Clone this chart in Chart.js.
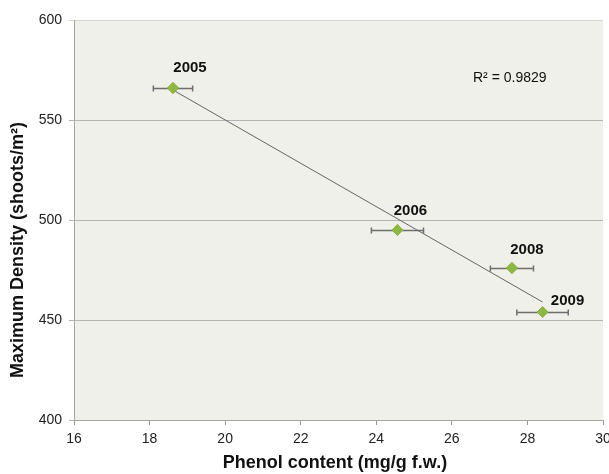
<!DOCTYPE html>
<html>
<head>
<meta charset="utf-8">
<script src="https://cdn.jsdelivr.net/npm/chart.js@4.4.1/dist/chart.umd.min.js"></script>
<style>
  html, body { margin: 0; padding: 0; background: #fff; }
  #wrap { width: 609px; height: 474px; }
</style>
</head>
<body>
<div id="wrap"><canvas id="grafico" width="609" height="474"></canvas></div>
<script>
// datos
const anios = ['2005', '2006', '2008', '2009'];
const fenoles = [18.62, 24.56, 27.59, 28.40];
const errFenoles = [0.52, 0.69, 0.57, 0.68];
const densidad = [566, 495, 476, 454];
const tendenciaX = [18.62, 28.40];
const tendenciaY = [565, 459];
const ticksX = [16, 18, 20, 22, 24, 26, 28, 30];
const ticksY = [400, 450, 500, 550, 600];
const textoR2 = 'R\u00b2 = 0.9829';

// desplazamiento de las etiquetas de año respecto al punto (px)
const offsetEtiquetas = [[17, -20], [13, -19], [15, -18], [25, -11]];

const fuente = '"Liberation Sans", Arial, sans-serif';

const puntos = fenoles.map((x, i) => ({ x: x, y: densidad[i] }));
const tendencia = tendenciaX.map((x, i) => ({ x: x, y: tendenciaY[i] }));

const pluginExtras = {
    id: 'extras',
    beforeDraw(chart) {
        const { ctx, chartArea } = chart;
        ctx.save();
        ctx.fillStyle = '#eef0e9';
        ctx.fillRect(chartArea.left, chartArea.top, chartArea.right - chartArea.left, chartArea.bottom - chartArea.top);
        ctx.restore();
    },
    afterDatasetsDraw(chart) {
        const { ctx } = chart;
        const sx = chart.scales.x;
        const sy = chart.scales.y;
        ctx.save();
        // barras de error horizontales
        ctx.strokeStyle = '#6e6e6e';
        ctx.lineWidth = 1.5;
        fenoles.forEach((x, i) => {
            const y = Math.round(sy.getPixelForValue(densidad[i])) + 0.5;
            const x1 = sx.getPixelForValue(x - errFenoles[i]);
            const x2 = sx.getPixelForValue(x + errFenoles[i]);
            ctx.beginPath();
            ctx.moveTo(x1, y); ctx.lineTo(x2, y);
            ctx.moveTo(x1, y - 3); ctx.lineTo(x1, y + 3);
            ctx.moveTo(x2, y - 3); ctx.lineTo(x2, y + 3);
            ctx.stroke();
        });
        ctx.restore();
        // redibujar marcadores encima de las barras
        const meta = chart.getDatasetMeta(1);
        meta.data.forEach(p => p.draw(ctx, chart.chartArea));

        ctx.save();
        ctx.fillStyle = '#111';
        ctx.font = 'bold 15px ' + fuente;
        ctx.textAlign = 'center';
        ctx.textBaseline = 'middle';
        anios.forEach((a, i) => {
            const px = sx.getPixelForValue(fenoles[i]) + offsetEtiquetas[i][0];
            const py = sy.getPixelForValue(densidad[i]) + offsetEtiquetas[i][1];
            ctx.fillText(a, px, py);
        });
        ctx.font = '14px ' + fuente;
        ctx.textAlign = 'left';
        ctx.fillText(textoR2, 473, 78);

        // titulos de ejes
        ctx.font = 'bold 18px ' + fuente;
        ctx.textAlign = 'center';
        ctx.fillText('Phenol content (mg/g f.w.)', 335, 463);
        ctx.translate(18, 250);
        ctx.rotate(-Math.PI / 2);
        ctx.fillText('Maximum Density (shoots/m\u00b2)', 0, 0);
        ctx.restore();
    }
};

new Chart(document.getElementById('grafico'), {
    type: 'scatter',
    data: {
        datasets: [
            {
                type: 'line',
                label: 'Tendencia',
                data: tendencia,
                borderColor: '#666',
                borderWidth: 1,
                pointRadius: 0,
                fill: false
            },
            {
                label: 'Densidad',
                data: puntos,
                pointStyle: 'rectRot',
                pointRadius: 5.5,
                backgroundColor: '#8fb744',
                borderColor: '#8fb744',
                borderWidth: 1
            }
        ]
    },
    options: {
        responsive: false,
        animation: false,
        layout: { autoPadding: false, padding: { top: 20, right: 6, left: 0, bottom: 0 } },
        plugins: {
            legend: { display: false },
            tooltip: { enabled: false }
        },
        scales: {
            x: {
                type: 'linear',
                min: 16,
                max: 30,
                afterBuildTicks: axis => { axis.ticks = ticksX.map(v => ({ value: v })); },
                afterFit: axis => {
                    axis.height = 54;
                    axis.paddingLeft = 0;
                    axis.paddingRight = 0;
                },
                grid: { drawOnChartArea: false, drawTicks: true, tickLength: 5, color: '#999' },
                border: { color: '#a5a5a5' },
                ticks: { color: '#222', font: { family: fuente, size: 14 }, padding: 6, maxRotation: 0 }
            },
            y: {
                min: 400,
                max: 600,
                afterBuildTicks: axis => { axis.ticks = ticksY.map(v => ({ value: v })); },
                afterFit: axis => {
                    axis.width = 74;
                    axis.paddingTop = 0;
                    axis.paddingBottom = 0;
                },
                grid: {
                    drawTicks: true,
                    tickLength: 5,
                    color: c => c.tick && c.tick.value === 600 ? '#d6d6d6' : '#b4b4b4'
                },
                border: { color: '#a5a5a5' },
                ticks: { color: '#222', font: { family: fuente, size: 14 }, padding: 7 }
            }
        }
    },
    plugins: [pluginExtras]
});
</script>
</body>
</html>
